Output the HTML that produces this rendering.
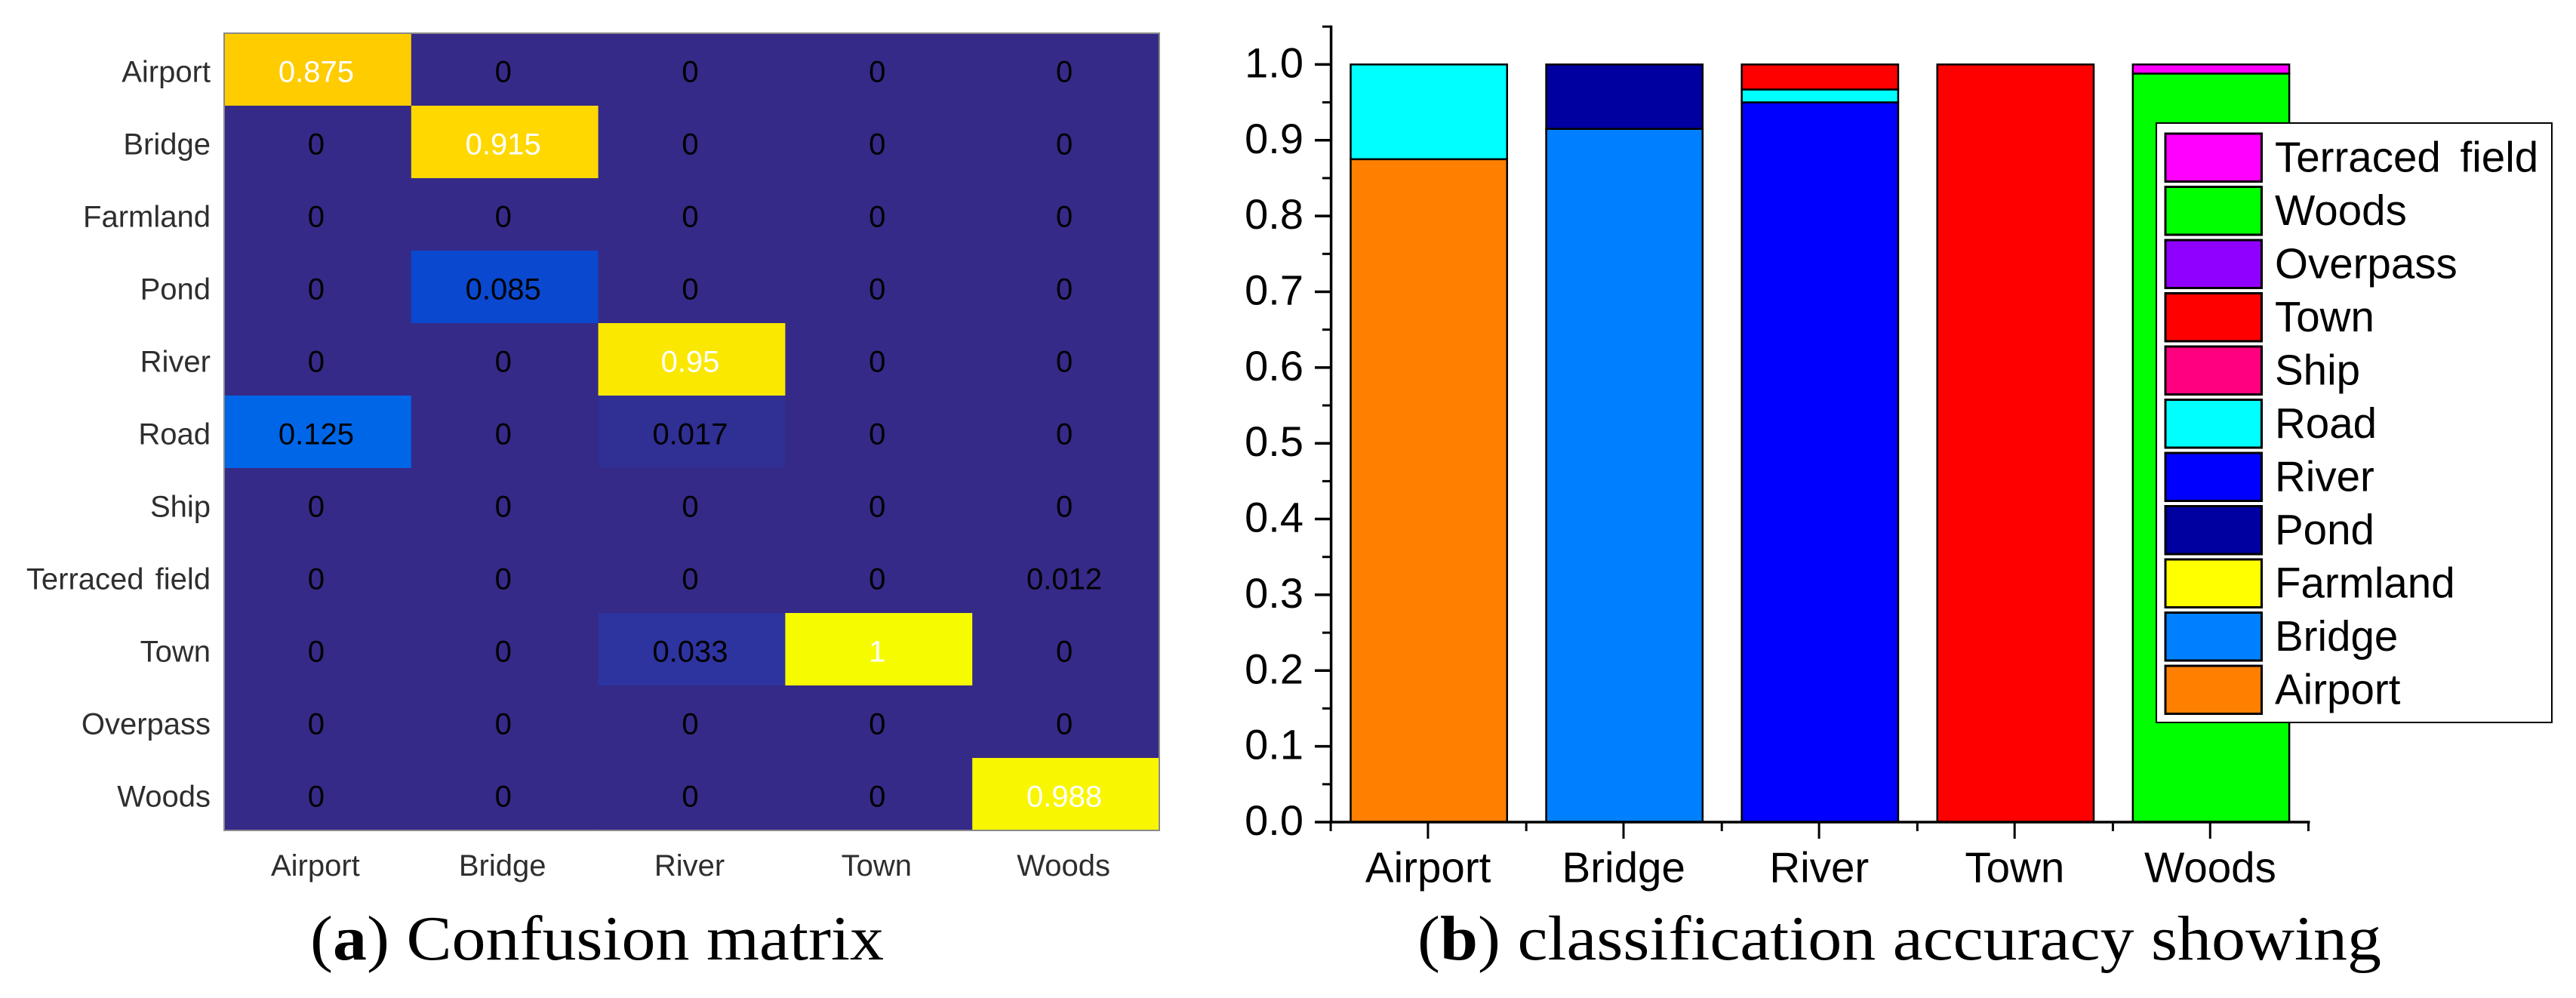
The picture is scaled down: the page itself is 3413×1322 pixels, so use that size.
<!DOCTYPE html>
<html lang="en">
<head>
<meta charset="utf-8">
<title>Confusion matrix and classification accuracy</title>
<style>
  html, body { margin: 0; padding: 0; background: #fff; }
  #figure { display: block; width: 3413px; height: 1322px; }
  text { font-family: "Liberation Sans", Arial, sans-serif; }
  .caption { font-family: "Liberation Serif", "Times New Roman", serif; font-size: 84px; fill: #000; }
</style>
</head>
<body>
<svg id="figure" xmlns="http://www.w3.org/2000/svg" width="3413" height="1322" viewBox="0 0 3413 1322">
  <rect x="0" y="0" width="3413" height="1322" fill="#ffffff"></rect>
  <g id="heatmap"></g>
  <g id="stacked"></g>
  <text class="caption" x="411" y="1271" textLength="760" lengthAdjust="spacingAndGlyphs">(<tspan font-weight="bold">a</tspan>) Confusion matrix</text>
  <text class="caption" x="1878" y="1271" textLength="1277" lengthAdjust="spacingAndGlyphs">(<tspan font-weight="bold">b</tspan>) classification accuracy showing</text>
</svg>
<script>
/* ---------- Confusion matrix data ---------- */
const matrixRowLabels = ['Airport', 'Bridge', 'Farmland', 'Pond', 'River', 'Road', 'Ship', 'Terraced field', 'Town', 'Overpass', 'Woods'];
const matrixColLabels = ['Airport', 'Bridge', 'River', 'Town', 'Woods'];
const rowAirport  = [0.875, 0, 0, 0, 0];
const rowBridge   = [0, 0.915, 0, 0, 0];
const rowFarmland = [0, 0, 0, 0, 0];
const rowPond     = [0, 0.085, 0, 0, 0];
const rowRiver    = [0, 0, 0.95, 0, 0];
const rowRoad     = [0.125, 0, 0.017, 0, 0];
const rowShip     = [0, 0, 0, 0, 0];
const rowTerraced = [0, 0, 0, 0, 0.012];
const rowTown     = [0, 0, 0.033, 1, 0];
const rowOverpass = [0, 0, 0, 0, 0];
const rowWoods    = [0, 0, 0, 0, 0.988];
const matrixRows = [rowAirport, rowBridge, rowFarmland, rowPond, rowRiver, rowRoad, rowShip, rowTerraced, rowTown, rowOverpass, rowWoods];

/* ---------- Stacked bar data ---------- */
const barCategories = ['Airport', 'Bridge', 'River', 'Town', 'Woods'];
const yTickValues = [0, 0.1, 0.2, 0.3, 0.4, 0.5, 0.6, 0.7, 0.8, 0.9, 1.0];
const yTickLabels = ['0.0', '0.1', '0.2', '0.3', '0.4', '0.5', '0.6', '0.7', '0.8', '0.9', '1.0'];
const yMinorValues = [0.05, 0.15, 0.25, 0.35, 0.45, 0.55, 0.65, 0.75, 0.85, 0.95, 1.05];
const seriesNames = ['Airport', 'Bridge', 'Farmland', 'Pond', 'River', 'Road', 'Ship', 'Town', 'Overpass', 'Woods', 'Terraced field'];
const seriesColors = ['#ff8000', '#0080ff', '#ffff00', '#0000a0', '#0000ff', '#00ffff', '#ff0080', '#ff0000', '#9000ff', '#00ff00', '#ff00ff'];
const valuesAirport  = [0.875, 0, 0, 0, 0];
const valuesBridge   = [0, 0.915, 0, 0, 0];
const valuesFarmland = [0, 0, 0, 0, 0];
const valuesPond     = [0, 0.085, 0, 0, 0];
const valuesRiver    = [0, 0, 0.95, 0, 0];
const valuesRoad     = [0.125, 0, 0.017, 0, 0];
const valuesShip     = [0, 0, 0, 0, 0];
const valuesTown     = [0, 0, 0.033, 1, 0];
const valuesOverpass = [0, 0, 0, 0, 0];
const valuesWoods    = [0, 0, 0, 0, 0.988];
const valuesTerraced = [0, 0, 0, 0, 0.012];
const seriesValues = [valuesAirport, valuesBridge, valuesFarmland, valuesPond, valuesRiver, valuesRoad, valuesShip, valuesTown, valuesOverpass, valuesWoods, valuesTerraced];

/* ---------- Helpers ---------- */
const SVG_NS = 'http://www.w3.org/2000/svg';
function make(tag, parent, attrs, content) {
  const node = document.createElementNS(SVG_NS, tag);
  for (const key in attrs) node.setAttribute(key, attrs[key]);
  if (content !== undefined) node.textContent = content;
  parent.appendChild(node);
  return node;
}
function slug(s) { return s.toLowerCase().replace(/\s+/g, '-'); }

/* Parula-like colour scale */
const colorStops = [
  [0, [53, 42, 135]], [0.012, [53, 42, 135]], [0.017, [48, 47, 148]], [0.033, [45, 52, 159]], [0.085, [10, 72, 207]], [0.125, [0, 102, 232]],
  [0.25, [16, 152, 217]], [0.5, [56, 185, 158]], [0.75, [230, 186, 60]],
  [0.875, [255, 204, 0]], [0.915, [255, 216, 0]], [0.95, [250, 232, 0]], [1, [247, 251, 0]]
];
function colorFor(v) {
  for (let i = 1; i < colorStops.length; i++) {
    const a = colorStops[i - 1], b = colorStops[i];
    if (v <= b[0]) {
      const t = (v - a[0]) / (b[0] - a[0]);
      const c = a[1].map((ch, k) => Math.round(ch + (b[1][k] - ch) * t));
      return 'rgb(' + c.join(',') + ')';
    }
  }
  return 'rgb(247,251,0)';
}

/* ---------- Confusion matrix ---------- */
const heat = document.getElementById('heatmap');
const heatLeft = 297, heatTop = 44, heatRight = 1536, heatBottom = 1100;
const cellW = (heatRight - heatLeft) / matrixColLabels.length;
const cellH = (heatBottom - heatTop) / matrixRowLabels.length;
const colX = i => heatLeft + i * cellW;
const rowY = i => heatTop + i * cellH;

matrixRows.forEach((row, r) => {
  row.forEach((v, c) => {
    const cell = make('rect', heat, { x: colX(c), y: rowY(r), width: cellW + 0.5, height: cellH + 0.5, fill: colorFor(v) });
    
    
  });
});
matrixRows.forEach((row, r) => {
  row.forEach((v, c) => {
    const label = make('text', heat, {
      x: colX(c) + cellW / 2 - 2, y: rowY(r) + cellH / 2 + 16.5,
      'text-anchor': 'middle', 'font-size': 40, fill: v > 0.5 ? '#ffffff' : '#000000'
    }, String(v));
    
    
  });
});
const heatFrame = make('rect', heat, { x: heatLeft, y: heatTop, width: heatRight - heatLeft, height: heatBottom - heatTop, fill: 'none', stroke: '#8a8a8a', 'stroke-width': 2 });



matrixRowLabels.forEach((name, r) => {
  const t = make('text', heat, { x: 279, y: rowY(r) + cellH / 2 + 16.5, 'text-anchor': 'end', 'font-size': 40, 'word-spacing': 4, fill: '#2e2e2e' }, name);
  
  
});
matrixColLabels.forEach((name, c) => {
  const t = make('text', heat, { x: colX(c) + cellW / 2 - 3, y: 1160, 'text-anchor': 'middle', 'font-size': 40, fill: '#2e2e2e' }, name);
  
  
});

/* ---------- Stacked bars ---------- */
const chart = document.getElementById('stacked');
const axisLeft = 1763.6, axisRight = 3059, axisY0 = 1089, axisY1 = 85.4;
const bandW = (axisRight - axisLeft) / barCategories.length;
const barW = bandW * 0.8;
const xScale = i => axisLeft + (i + 0.5) * bandW;
const yScale = v => axisY0 - v * (axisY0 - axisY1);

barCategories.forEach((cat, i) => {
  let base = 0;
  seriesValues.forEach((vals, s) => {
    const v = vals[i];
    if (!v) return;
    const top = base + v;
    const seg = make('rect', chart, {
      x: xScale(i) - barW / 2, y: yScale(top), width: barW, height: yScale(base) - yScale(top),
      fill: seriesColors[s], stroke: '#000', 'stroke-width': 2.5
    });
    
    
    base = top;
  });
});

const yAxisLine = make('line', chart, { x1: axisLeft, x2: axisLeft, y1: yScale(1.05) - 1.5, y2: axisY0 + 1.5, stroke: '#000', 'stroke-width': 3.5 });


const xAxisLine = make('line', chart, { x1: axisLeft, x2: axisRight + 1.5, y1: axisY0, y2: axisY0, stroke: '#000', 'stroke-width': 3.5 });



yTickValues.forEach((v, i) => {
  const tick = make('line', chart, { x1: 1742, x2: axisLeft, y1: yScale(v), y2: yScale(v), stroke: '#000', 'stroke-width': 3.5 });
  
  
  const label = make('text', chart, { x: 1727, y: yScale(v) + 17, 'text-anchor': 'end', 'font-size': 56, fill: '#000' }, yTickLabels[i]);
  
  
});
yMinorValues.forEach(v => {
  const tick = make('line', chart, { x1: 1752, x2: axisLeft, y1: yScale(v), y2: yScale(v), stroke: '#000', 'stroke-width': 3 });
  
  
});
barCategories.forEach((cat, i) => {
  const tick = make('line', chart, { x1: xScale(i) - 1.2, x2: xScale(i) - 1.2, y1: axisY0, y2: 1111, stroke: '#000', 'stroke-width': 3 });
  
  
  const label = make('text', chart, { x: xScale(i) - 1, y: 1168.5, 'text-anchor': 'middle', 'font-size': 56.5, fill: '#000' }, cat);
  
  
});
for (let i = 0; i <= barCategories.length; i++) {
  const tick = make('line', chart, { x1: xScale(i - 0.5) - 0.5, x2: xScale(i - 0.5) - 0.5, y1: axisY0, y2: 1101, stroke: '#000', 'stroke-width': 3 });
  
  
}

/* ---------- Legend (top entry is the last series) ---------- */
const legend = make('g', chart, {});


const legendBox = make('rect', legend, { x: 2857, y: 163, width: 524, height: 794, fill: '#ffffff', stroke: '#000', 'stroke-width': 2 });


const legendTop = 177, legendPitch = 70.5, swatchH = 63.5;
seriesNames.slice().reverse().forEach((name, i) => {
  const s = seriesNames.length - 1 - i;
  const swatch = make('rect', legend, { x: 2869, y: legendTop + i * legendPitch, width: 127.5, height: swatchH, fill: seriesColors[s], stroke: '#000', 'stroke-width': 3 });
  
  
  const label = make('text', legend, { x: 3014, y: legendTop + i * legendPitch + swatchH / 2 + 18.8, 'font-size': 56.5, 'word-spacing': 10, fill: '#000' }, name);
  
  
});
</script>
</body>
</html>
